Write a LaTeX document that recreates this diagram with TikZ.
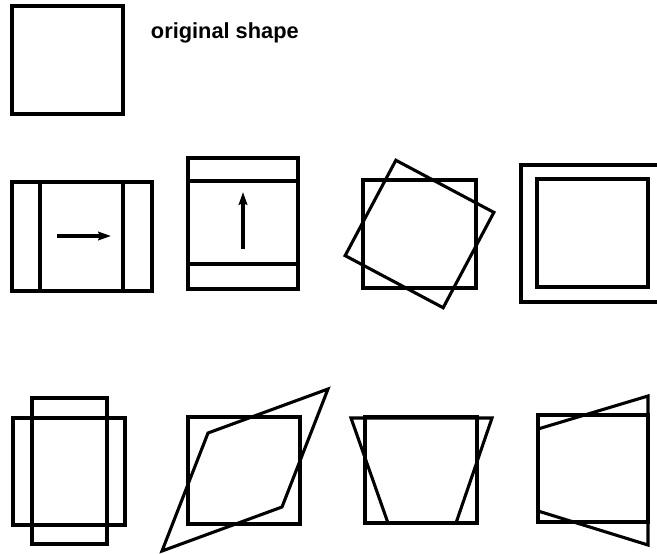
\documentclass[tikz,border=0pt]{standalone}
\usepackage{fontspec}
\setmainfont{Liberation Sans}
\usepackage{tikz}
\usetikzlibrary{arrows.meta}

\begin{document}
\begin{tikzpicture}[x=0.025cm,y=-0.025cm,
  outline/.style={line width=2.2pt,line join=miter},
  move/.style={line width=2.2pt,-{Stealth[length=9pt,width=6pt,inset=1pt]}}]
\useasboundingbox (0,0) rectangle (657,553);
\draw[outline] (12,6) rectangle (123,114);
\node[anchor=west,font=\fontsize{15.5}{18}\selectfont\bfseries] (label) at (146,33) {original shape};
\draw[outline] (12,182) rectangle (152,291);
\draw[outline] (40,182) -- (40,291);
\draw[outline] (123,182) -- (123,291);
\coordinate (r0) at (57,236);
\coordinate (r1) at (111,236);
\draw[move] (r0) -- (r1);
\draw[outline] (188,158) rectangle (298,289);
\draw[outline] (188,181) -- (298,181);
\draw[outline] (188,264) -- (298,264);
\coordinate (u0) at (243,249);
\coordinate (u1) at (243,192);
\draw[move] (u0) -- (u1);
\draw[outline] (363,180) rectangle (476,288);
\draw[outline,rotate around={-28:(419.5,234)}] (364,180) rectangle (475,288);
\draw[outline] (660,165) -- (521,165) -- (521,302) -- (660,302);
\draw[outline] (537,179) rectangle (648,287);
\draw[outline] (13,418) rectangle (125,525);
\draw[outline] (32,398) rectangle (107,544);
\draw[outline] (188,417) rectangle (300,524);
\draw[outline] (208,433) -- (328,389) -- (282,507) -- (162,551) -- cycle;
\draw[outline] (365,417) rectangle (477,523);
\draw[outline] (351,418) -- (492,418) -- (456,523) -- (388,523) -- cycle;
\draw[outline] (538,415) rectangle (648,522);
\draw[outline] (538,429) -- (648,396) -- (648,545) -- (538,511) -- cycle;
\end{tikzpicture}
\end{document}
